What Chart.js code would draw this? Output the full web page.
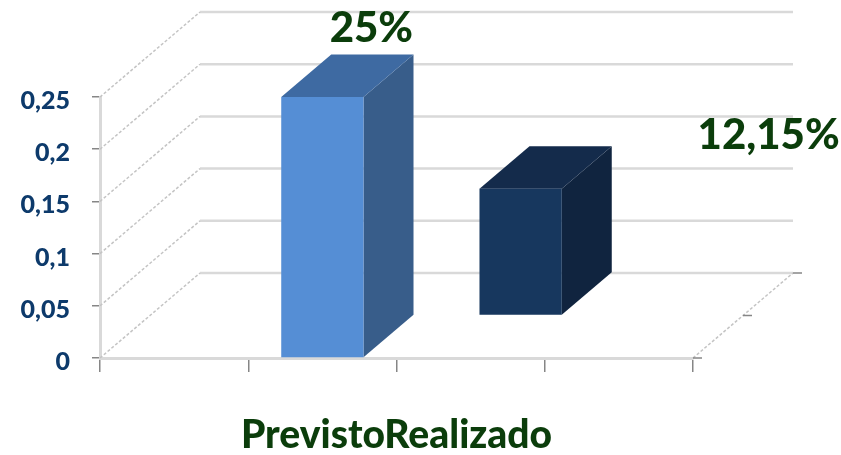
<!DOCTYPE html>
<html>
<head>
<meta charset="utf-8">
<script src="https://cdn.jsdelivr.net/npm/chart.js@4.4.0/dist/chart.umd.min.js"></script>
<style>
  html, body { margin: 0; padding: 0; background: #fff; }
  #wrap { width: 841px; height: 455px; }
</style>
</head>
<body>
<div id="wrap"><canvas id="grafico"></canvas></div>
<script>
// dados do grafico
const categorias = ['Previsto', 'Realizado'];
const valores = [0.25, 0.1215];
const rotulos = ['25%', '12,15%'];
const escalaY = [0, 0.05, 0.1, 0.15, 0.2, 0.25];

// cores das faces (frente, lado, topo) por serie
const frente = ['#558ed5', '#17375e'];
const lado = ['#385d8a', '#10243f'];
const topo = ['#3e6aa2', '#142b4b'];

// deslocamento de uma fileira no efeito 3D
const prof = { dx: 50, dy: -42.5 };
const fileiras = 2;
// onde ficam os rotulos, relativo ao topo de cada barra
const posRotulo = [{ dx: 49, dy: -69 }, { dx: 298, dy: -96 }];

function poligono(ctx, pts, cor) {
    ctx.fillStyle = cor;
    ctx.beginPath();
    ctx.moveTo(pts[0][0], pts[0][1]);
    for (let k = 1; k < pts.length; k++) ctx.lineTo(pts[k][0], pts[k][1]);
    ctx.closePath();
    ctx.fill();
}

const caixa3d = {
    id: 'caixa3d',
    beforeDatasetsDraw(chart) {
        const { ctx, chartArea: a, scales: { y } } = chart;
        const fx = prof.dx * fileiras, fy = prof.dy * fileiras;
        const y0 = y.getPixelForValue(0);
        ctx.save();

        // linhas da parede do fundo
        ctx.strokeStyle = '#d9d9d9';
        ctx.lineWidth = 2.5;
        escalaY.forEach(function (v) {
            const py = y.getPixelForValue(v);
            ctx.beginPath();
            ctx.moveTo(a.left + fx, py + fy);
            ctx.lineTo(a.right + fx, py + fy);
            ctx.stroke();
        });

        // diagonais tracejadas da parede lateral e do piso
        ctx.strokeStyle = '#c4c4c4';
        ctx.lineWidth = 1.5;
        ctx.setLineDash([3, 2]);
        escalaY.forEach(function (v) {
            const py = y.getPixelForValue(v);
            ctx.beginPath();
            ctx.moveTo(a.left, py);
            ctx.lineTo(a.left + fx, py + fy);
            ctx.stroke();
        });
        ctx.beginPath();
        ctx.moveTo(a.right, y0);
        ctx.lineTo(a.right + fx, y0 + fy);
        ctx.stroke();
        ctx.setLineDash([]);

        // marcas do eixo de profundidade
        ctx.strokeStyle = '#868686';
        for (let k = 0; k <= fileiras; k++) {
            const px = a.right + k * prof.dx, py = y0 + k * prof.dy;
            ctx.beginPath();
            ctx.moveTo(px, py);
            ctx.lineTo(px + 9, py);
            ctx.stroke();
        }

        // barras, da fileira de tras para a da frente
        const meta = chart.getDatasetMeta(0);
        for (let c = categorias.length - 1; c >= 0; c--) {
            const el = meta.data[c + 1];
            const p = el.getProps(['x', 'y', 'base', 'width'], true);
            const ox = c * prof.dx, oy = c * prof.dy;
            const xl = p.x - p.width / 2 + ox, xr = p.x + p.width / 2 + ox;
            const yt = p.y + oy, yb = p.base + oy;
            poligono(ctx, [[xr, yt], [xr + prof.dx, yt + prof.dy], [xr + prof.dx, yb + prof.dy], [xr, yb]], lado[c]);
            poligono(ctx, [[xl, yt], [xr, yt], [xr + prof.dx, yt + prof.dy], [xl + prof.dx, yt + prof.dy]], topo[c]);
            ctx.fillStyle = frente[c];
            ctx.fillRect(xl, yt, xr - xl, yb - yt);
        }
        ctx.restore();
    },
    afterDatasetsDraw(chart) {
        const ctx = chart.ctx;
        const meta = chart.getDatasetMeta(0);
        ctx.save();
        ctx.font = '900 42px Lato';
        ctx.fillStyle = '#0b3d0b';
        ctx.textAlign = 'center';
        ctx.textBaseline = 'middle';
        rotulos.forEach(function (txt, c) {
            const el = meta.data[c + 1];
            ctx.fillText(txt, el.x + posRotulo[c].dx, el.y + posRotulo[c].dy);
        });
        ctx.restore();
    }
};

new Chart(document.getElementById('grafico'), {
    type: 'bar',
    data: {
        labels: [''].concat(categorias, ['']),
        datasets: [{
            label: 'Valor',
            data: [null].concat(valores, [null]),
            backgroundColor: 'rgba(0,0,0,0)',
            borderWidth: 0,
            categoryPercentage: 1,
            barPercentage: 0.555
        }]
    },
    options: {
        responsive: true,
        maintainAspectRatio: false,
        animation: false,
        layout: { padding: { top: 97, right: 148, bottom: 0, left: 0 } },
        plugins: {
            legend: { display: false },
            tooltip: { enabled: false }
        },
        scales: {
            x: {
                offset: true,
                grid: { offset: true, drawOnChartArea: false, tickLength: 14, color: '#868686', lineWidth: 1.5 },
                border: { color: '#d9d9d9', width: 3 },
                ticks: { display: false },
                title: {
                    display: true,
                    text: categorias.join(''),
                    color: '#0b3d0b',
                    font: { family: 'Lato', weight: '900', size: 39, lineHeight: 1 },
                    padding: 0
                },
                afterFit: function (s) { s.height = 97; }
            },
            y: {
                min: 0,
                max: 0.25,
                ticks: {
                    stepSize: 0.05,
                    color: '#0d3a6b',
                    font: { family: 'Lato', weight: '900', size: 25 },
                    padding: 22,
                    labelOffset: 4,
                    callback: function (v) { return String(Math.round(v * 100) / 100).replace('.', ','); }
                },
                grid: { drawOnChartArea: false, tickLength: 8, color: '#868686', lineWidth: 1.5 },
                border: { color: '#d9d9d9', width: 3 },
                afterFit: function (s) { s.width = 100; }
            }
        }
    },
    plugins: [caixa3d]
});
</script>
</body>
</html>
